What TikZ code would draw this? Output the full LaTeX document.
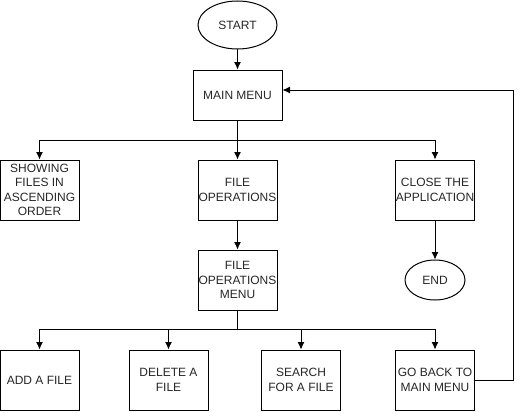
\documentclass[tikz,border=0pt]{standalone}
\usepackage{fontspec}
\setmainfont{Liberation Sans}
\usetikzlibrary{positioning}
\usetikzlibrary{arrows.meta}
\usetikzlibrary{shapes.geometric}
\tikzset{edge/.style = {->,> = {Latex[length=7.5pt,width=7pt]}, line width=1pt}}

\begin{document}
\begin{tikzpicture}[x=1pt,y=1pt,line width=1pt,
    box node/.style={rectangle,draw,inner sep=0pt,minimum width=79pt,minimum height=60pt,align=center,text=black!85,font=\fontsize{12}{14.5}\selectfont},
    term node/.style={ellipse,draw,inner sep=0pt,text=black!85,font=\fontsize{12}{14.5}\selectfont}]
    \useasboundingbox (0,0) rectangle (529,-412);

    \node[term node,minimum width=79pt,minimum height=48pt] (start) at (237.5,-25) {START};
    \node[box node,minimum width=89pt,minimum height=50pt] (main) [below of=start,node distance=70pt] {MAIN MENU};
    \node[box node] (fileop) [below of=main,node distance=95pt] {FILE\\OPERATIONS};
    \node[box node] (show) [left of=fileop,node distance=198pt] {SHOWING\\FILES IN\\ASCENDING\\ORDER};
    \node[box node] (close) [right of=fileop,node distance=197.5pt] {CLOSE THE\\APPLICATION};
    \node[term node,minimum width=60pt,minimum height=40pt] (end) [below of=close,node distance=90pt] {END};
    \node[box node] (opmenu) [below of=fileop,node distance=90pt] {FILE\\OPERATIONS\\MENU};

    \node[box node] (add) [below of=show,node distance=190pt] {ADD A FILE};
    \node[box node] (delete) [right of=add,node distance=129pt] {DELETE A\\FILE};
    \node[box node] (back) [below of=close,node distance=190pt] {GO BACK TO\\MAIN MENU};
    \node[box node] (search) [left of=back,node distance=134pt] {SEARCH\\FOR A FILE};

    \coordinate[below=20pt of main] (split1);
    \coordinate[below=19pt of opmenu] (split2);
    \coordinate (loop) at (513,-90);

    \draw[edge] (start) -- (main);
    \draw[edge] (main) -- (fileop);
    \draw[edge] (split1) -| (show);
    \draw[edge] (split1) -| (close);
    \draw[edge] (fileop) -- (opmenu);
    \draw[edge] (close) -- (end);
    \draw (opmenu) -- (split2);
    \draw[edge] (split2) -| (add);
    \draw[edge] (split2) -| (delete);
    \draw[edge] (split2) -| (search);
    \draw[edge] (split2) -| (back);
    \draw[edge] (back) -| (loop) -- (loop -| main.east);
\end{tikzpicture}
\end{document}
